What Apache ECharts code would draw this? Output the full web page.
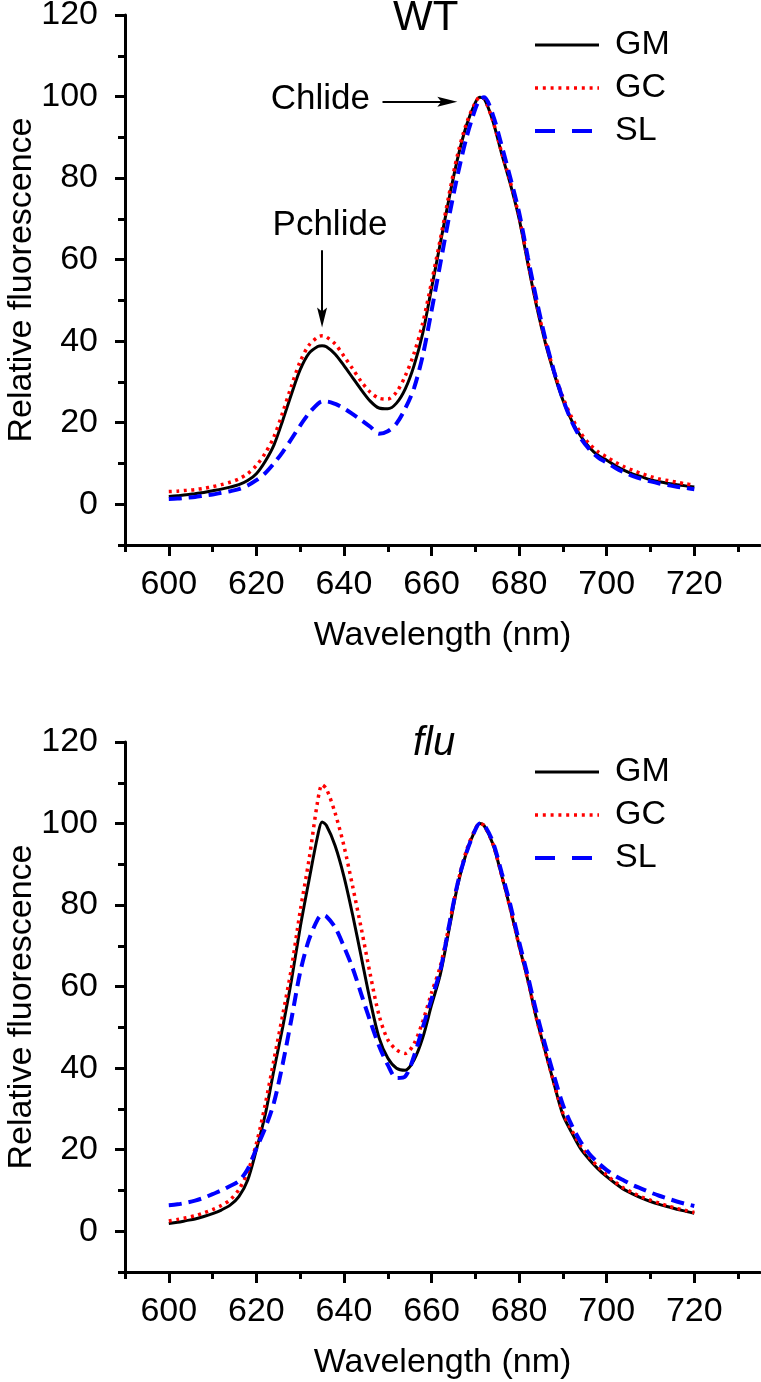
<!DOCTYPE html>
<html>
<head>
<meta charset="utf-8">
<script src="https://cdn.jsdelivr.net/npm/echarts@6/dist/echarts.min.js"></script>
<style>
html,body{margin:0;padding:0;background:#fff;}
#c{width:761px;height:1382px;}
</style>
</head>
<body>
<div id="c"></div>
<script>
// ---------- data ----------
const wavelength = [600,602,604,606,608,610,612,614,616,618,620,622,624,626,628,630,632,634,635,636,638,640,642,644,646,648,650,652,654,656,658,660,662,664,666,668,670,671,672,674,676,678,680,682,684,686,688,690,692,694,696,698,700,702,704,706,708,710,712,714,716,718,720];

const wtGM = [1.9,2.1,2.3,2.6,2.9,3.3,3.7,4.2,4.8,5.8,7.5,10.5,14.5,20.5,27.0,33.0,37.0,38.7,38.9,38.6,36.8,34.0,31.0,28.0,25.3,23.6,23.4,24.8,28.3,34.0,42.0,53.0,64.0,75.0,85.0,93.0,98.5,99.8,99.5,94.0,86.0,78.5,70.0,59.0,48.5,39.5,32.0,25.5,20.5,16.8,14.0,12.0,10.8,9.4,8.3,7.4,6.7,6.0,5.5,5.1,4.8,4.5,4.2];
const wtGC = [3.1,3.2,3.4,3.6,3.9,4.3,4.8,5.4,6.2,7.5,9.5,12.5,16.5,22.5,29.0,35.0,39.0,41.0,41.3,41.0,39.3,36.3,33.2,30.0,27.5,26.0,25.8,27.5,31.5,37.0,44.5,54.5,65.0,76.0,86.0,93.5,98.5,99.8,99.5,94.0,86.3,79.0,70.5,59.5,49.0,40.0,32.5,26.2,21.3,17.6,14.8,12.9,11.6,10.3,9.2,8.3,7.5,6.8,6.2,5.8,5.4,5.0,4.7];
const wtSL = [1.3,1.4,1.6,1.8,2.1,2.4,2.8,3.2,3.7,4.6,5.9,7.6,10.0,12.8,16.0,19.3,22.3,24.6,25.2,25.2,24.6,23.5,22.1,20.6,19.0,17.3,17.9,19.8,23.5,28.5,36.5,47.5,59.0,70.5,81.0,90.0,97.0,99.3,99.8,95.5,88.0,80.0,71.5,60.5,50.0,40.5,32.5,25.8,20.3,16.3,13.5,11.5,10.2,8.9,7.8,6.9,6.2,5.6,5.1,4.7,4.3,4.0,3.7];

const fluGM = [1.9,2.2,2.6,3.0,3.6,4.3,5.2,6.4,8.5,12.5,20.0,28.5,39.5,50.0,61.5,74.5,86.0,97.0,100.4,99.5,94.5,87.0,77.5,67.0,56.5,47.5,42.5,40.0,39.5,42.0,47.5,55.5,63.0,74.0,85.0,93.0,98.5,100.0,99.5,95.0,87.3,79.0,70.0,61.5,52.0,44.0,36.0,28.5,24.2,20.3,17.6,15.3,13.4,11.7,10.2,9.1,8.1,7.3,6.6,6.0,5.4,4.9,4.4];
const fluGC = [2.5,2.9,3.3,3.8,4.5,5.3,6.3,7.7,10.2,14.5,21.5,31.0,42.0,53.0,64.5,78.5,91.0,105.5,109.5,108.5,102.5,94.5,84.5,74.0,63.0,53.0,47.0,44.5,43.6,46.0,51.5,58.5,65.0,75.0,85.5,93.5,98.7,100.0,99.5,95.0,87.3,79.0,70.0,61.5,52.0,44.0,36.2,29.0,24.8,21.0,18.2,15.8,13.8,12.0,10.5,9.4,8.4,7.6,6.9,6.2,5.6,5.1,4.6];
const fluSL = [6.4,6.6,7.0,7.5,8.2,9.1,10.0,11.1,12.3,15.2,20.3,25.3,31.5,41.0,52.0,63.5,71.5,76.5,77.6,77.2,74.5,69.8,64.5,58.0,51.5,45.5,40.8,37.6,38.0,43.0,50.0,57.0,64.0,75.0,85.5,93.0,98.5,100.0,99.7,95.5,88.0,80.0,71.0,62.5,53.5,45.5,38.0,31.0,26.0,22.0,19.0,16.8,15.0,13.5,12.4,11.3,10.4,9.5,8.7,8.0,7.3,6.7,6.2];

const seriesNames = ['GM','GC','SL'];
const panelTitles = ['WT','flu'];
const xMajorTicks = [600,620,640,660,680,700,720];
const xMinorTicks = [590,610,630,650,670,690,710,730];
const yMajorTicks = [0,20,40,60,80,100,120];
const yMinorTicks = [-10,10,30,50,70,90,110];
const xAxisName = 'Wavelength (nm)';
const yAxisName = 'Relative fluorescence';
const annotations = ['Chlide','Pchlide'];

// ---------- styling ----------
const FONT = '"Liberation Sans", Arial, sans-serif';
const COLORS = ['#000000','#ff0000','#0000ff'];
const pair = arr => wavelength.map((w, i) => [w, arr[i]]);
const lineStyles = [
  {color:COLORS[0], width:3, type:'solid'},
  {color:COLORS[1], width:3.5, type:[3,4.5]},
  {color:COLORS[2], width:4, type:[13,7]}
];
const legendLineStyles = [
  {color:COLORS[0], width:3, type:'solid'},
  {color:COLORS[1], width:3.5, type:[3,4.8]},
  {color:COLORS[2], width:4, type:[20,17]}
];

function mainX(gi){
  return {
    type:'value', gridIndex:gi, min:590, max:735,
    name:xAxisName, nameLocation:'middle', nameGap:74, nameMoveOverlap:false,
    nameTextStyle:{fontSize:34, color:'#000', fontFamily:FONT},
    axisLine:{show:true, onZero:false, lineStyle:{color:'#000', width:3}},
    axisTick:{show:true, inside:false, length:11, lineStyle:{color:'#000', width:3}, customValues:xMajorTicks},
    axisLabel:{show:true, margin:23, fontSize:34, color:'#000', fontFamily:FONT, customValues:xMajorTicks},
    splitLine:{show:false}
  };
}
function minorX(gi){
  return {
    type:'value', gridIndex:gi, min:590, max:735, position:'bottom',
    axisLine:{show:false, onZero:false},
    axisTick:{show:true, length:7, lineStyle:{color:'#000', width:3}, customValues:xMinorTicks},
    axisLabel:{show:false}, splitLine:{show:false}
  };
}
function mainY(gi){
  return {
    type:'value', gridIndex:gi, min:-10, max:120,
    name:yAxisName, nameLocation:'middle', nameGap:86, nameRotate:90, nameMoveOverlap:false,
    nameTextStyle:{fontSize:34, color:'#000', fontFamily:FONT},
    axisLine:{show:true, onZero:false, lineStyle:{color:'#000', width:3}},
    axisTick:{show:true, length:10, lineStyle:{color:'#000', width:3}, customValues:yMajorTicks},
    axisLabel:{show:true, margin:27, fontSize:34, color:'#000', fontFamily:FONT, customValues:yMajorTicks},
    splitLine:{show:false}
  };
}
function minorY(gi){
  return {
    type:'value', gridIndex:gi, min:-10, max:120, position:'left',
    axisLine:{show:false, onZero:false},
    axisTick:{show:true, length:7, lineStyle:{color:'#000', width:3}, customValues:yMinorTicks},
    axisLabel:{show:false}, splitLine:{show:false}
  };
}

const arrowPath = 'path://M5,0 L10,20 L5,16 L0,20 Z';

function makeSeries(gi, arrs){
  return arrs.map((arr, k) => ({
    name:seriesNames[k], type:'line', xAxisIndex:gi*2, yAxisIndex:gi*2,
    data:pair(arr), symbol:'none', showSymbol:false, smooth:0.3,
    color:COLORS[k], itemStyle:{color:COLORS[k]},
    lineStyle:lineStyles[k], z:2+k, animation:false
  }));
}

const topSeries = makeSeries(0, [wtGM, wtGC, wtSL]);
const botSeries = makeSeries(1, [fluGM, fluGC, fluSL]);

topSeries[0].markLine = {
  silent:true, animation:false,
  symbol:['none', arrowPath], symbolSize:20, symbolKeepAspect:true,
  lineStyle:{color:'#000', width:2, type:'solid'},
  label:{show:false},
  data:[
    [{coord:[648.8, 98.7]}, {coord:[663.6, 98.7]}],
    [{coord:[635.0, 62.3]}, {coord:[635.0, 45.8]}]
  ]
};
topSeries[0].markPoint = {
  silent:true, animation:false, symbol:'rect', symbolSize:1,
  itemStyle:{color:'rgba(0,0,0,0)'},
  label:{show:true, position:'inside', fontSize:35, color:'#000', fontFamily:FONT},
  data:[
    {coord:[634.6, 99.3], label:{formatter:annotations[0]}},
    {coord:[636.8, 68.4], label:{formatter:annotations[1]}}
  ]
};

function legend(top){
  return {
    orient:'vertical', left:533, top:top, padding:0,
    itemWidth:64, itemHeight:4, itemGap:9, selectedMode:false,
    itemStyle:{opacity:0},
    textStyle:{fontSize:34, color:'#000', fontFamily:FONT, padding:[0,0,0,11]},
    data:seriesNames.map((n,k)=>({name:n, lineStyle:legendLineStyles[k], itemStyle:{opacity:0}}))
  };
}

const option = {
  animation:false,
  backgroundColor:'#fff',
  title:[
    {text:panelTitles[0], left:393, top:-3, padding:0,
     textStyle:{fontSize:42, fontWeight:'normal', color:'#000', fontFamily:FONT}},
    {text:panelTitles[1], left:413, top:724, padding:0,
     textStyle:{fontSize:40, fontWeight:'normal', fontStyle:'italic', color:'#000', fontFamily:FONT}}
  ],
  legend:[legend(28), legend(755)],
  grid:[
    {left:125, top:15, right:1, height:530, containLabel:false, outerBoundsMode:'none'},
    {left:125, top:742, right:1, height:530, containLabel:false, outerBoundsMode:'none'}
  ],
  xAxis:[mainX(0), minorX(0), mainX(1), minorX(1)],
  yAxis:[mainY(0), minorY(0), mainY(1), minorY(1)],
  series:[...topSeries, ...botSeries]
};

const chart = echarts.init(document.getElementById('c'), null, {renderer:'canvas'});
chart.setOption(option);
</script>
</body>
</html>
